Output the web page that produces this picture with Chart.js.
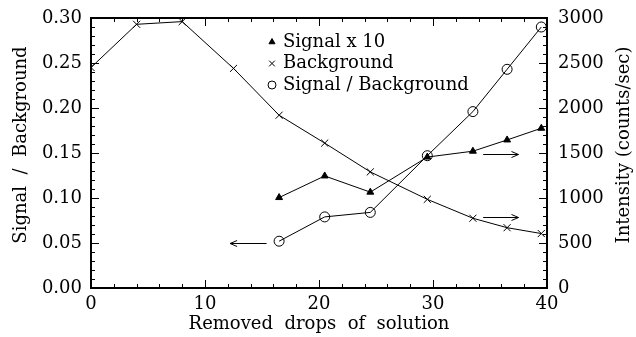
<!DOCTYPE html>
<html>
<head>
<meta charset="utf-8">
<script src="https://cdn.jsdelivr.net/npm/chart.js@4.4.0/dist/chart.umd.min.js"></script>
<style>
html, body { margin: 0; padding: 0; background: #fff; }
#wrap { width: 636px; height: 337px; }
</style>
</head>
<body>
<div id="wrap"><canvas id="chart"></canvas></div>
<script>
// data
const drops = [0, 4, 8, 12.5, 16.5, 20.5, 24.5, 29.5, 33.5, 36.5, 39.5];
const background = [2450, 2930, 2960, 2440, 1920, 1610, 1290, 985, 775, 670, 605];
const signalDrops = [16.5, 20.5, 24.5, 29.5, 33.5, 36.5, 39.5];
const signalX10 = [1005, 1245, 1065, 1455, 1520, 1645, 1775];
const ratio = [0.052, 0.079, 0.084, 0.147, 0.196, 0.243, 0.290];

// arrows showing which axis a series belongs to: [xFrom, xTo, value]
const leftArrow = [15.4, 12.2, 0.05];
const rightArrows = [[34.4, 37.5, 1490], [34.4, 37.5, 785]];

const FONT = { family: 'DejaVu Serif', size: 18 };
const pts = (xs, ys) => xs.map((x, i) => ({ x: x, y: ys[i] }));

// box with inward ticks on all four sides, arrows, legend, side titles
const framePlugin = {
    id: 'frame',
    afterDatasetsDraw(chart) {
        const { ctx, chartArea: a, scales } = chart;
        ctx.save();
        ctx.strokeStyle = '#000';
        ctx.lineWidth = 1;
        ctx.beginPath();
        for (let v = 0; v <= 40; v += 2) {
            const px = Math.round(scales.x.getPixelForValue(v)) + 0.5;
            const len = v % 10 === 0 ? 8 : 4;
            ctx.moveTo(px, a.bottom); ctx.lineTo(px, a.bottom - len);
            ctx.moveTo(px, a.top); ctx.lineTo(px, a.top + len);
        }
        for (let i = 0; i <= 30; i++) {
            const len = i % 5 === 0 ? 8 : 4;
            const pl = Math.round(scales.y.getPixelForValue(i / 100)) + 0.5;
            ctx.moveTo(a.left, pl); ctx.lineTo(a.left + len, pl);
            const pr = Math.round(scales.y1.getPixelForValue(i * 100)) + 0.5;
            ctx.moveTo(a.right, pr); ctx.lineTo(a.right - len, pr);
        }
        ctx.stroke();
        ctx.lineWidth = 2;
        ctx.strokeRect(a.left, a.top, a.right - a.left, a.bottom - a.top);

        // arrows
        ctx.lineWidth = 1;
        const arrow = (scaleY, d) => {
            const x0 = scales.x.getPixelForValue(d[0]);
            const x1 = scales.x.getPixelForValue(d[1]);
            const yy = Math.round(scaleY.getPixelForValue(d[2])) + 0.5;
            const dir = Math.sign(x1 - x0);
            ctx.beginPath();
            ctx.moveTo(x0, yy); ctx.lineTo(x1, yy);
            ctx.moveTo(x1 - dir * 7, yy - 3); ctx.lineTo(x1, yy); ctx.lineTo(x1 - dir * 7, yy + 3);
            ctx.stroke();
        };
        arrow(scales.y, leftArrow);
        rightArrows.forEach(d => arrow(scales.y1, d));

        // legend inside the plot
        const legendX = 272, legendY = 42, rowH = 21.5;
        const sizes = [3.5, 4, 4];
        ctx.font = FONT.size + 'px ' + FONT.family;
        ctx.textBaseline = 'middle';
        chart.data.datasets.forEach((ds, i) => {
            const yy = legendY + i * rowH;
            ctx.strokeStyle = '#000';
            ctx.fillStyle = ds.pointStyle === 'triangle' ? '#000' : 'rgba(0,0,0,0)';
            Chart.helpers.drawPoint(ctx, {
                pointStyle: ds.pointStyle, radius: sizes[i], rotation: 0, borderWidth: 1
            }, legendX, yy);
            ctx.fillStyle = '#000';
            ctx.fillText(ds.label, legendX + 11, yy);
        });

        // vertical axis titles, both read bottom to top
        const sideTitle = (text, x, y) => {
            ctx.save();
            ctx.translate(x, y);
            ctx.rotate(-Math.PI / 2);
            ctx.textAlign = 'center';
            ctx.fillText(text, 0, 0);
            ctx.restore();
        };
        sideTitle('Signal  /  Background', 21, 145);
        sideTitle('Intensity (counts/sec)', 624, 145);
        ctx.restore();
    }
};

new Chart(document.getElementById('chart'), {
    type: 'line',
    data: {
        datasets: [
            {
                label: 'Signal x 10',
                data: pts(signalDrops, signalX10),
                yAxisID: 'y1',
                borderColor: '#000', borderWidth: 1,
                pointStyle: 'triangle', pointRadius: 4,
                pointBackgroundColor: '#000', pointBorderColor: '#000'
            },
            {
                label: 'Background',
                data: pts(drops, background),
                yAxisID: 'y1',
                borderColor: '#000', borderWidth: 1,
                pointStyle: 'crossRot', pointRadius: 5,
                pointBorderColor: '#000', pointBorderWidth: 1
            },
            {
                label: 'Signal / Background',
                data: pts(signalDrops, ratio),
                yAxisID: 'y',
                borderColor: '#000', borderWidth: 1,
                pointStyle: 'circle', pointRadius: 5,
                pointBackgroundColor: 'rgba(0,0,0,0)', pointBorderColor: '#000', pointBorderWidth: 1
            }
        ]
    },
    options: {
        responsive: true,
        maintainAspectRatio: false,
        animation: false,
        layout: { padding: { top: 18, left: 0, right: 0, bottom: 0 } },
        plugins: { legend: { display: false }, tooltip: { enabled: false } },
        scales: {
            x: {
                type: 'linear', min: 0, max: 40, position: 'bottom',
                grid: { display: false, drawTicks: false },
                border: { display: false },
                ticks: { stepSize: 10, padding: 6, color: '#000', font: FONT, maxRotation: 0 },
                title: { display: true, text: 'Removed  drops  of  solution', color: '#000', font: FONT, padding: { top: 0, bottom: 2 } },
                afterFit(s) { s.height = 49; s.paddingLeft = 0; s.paddingRight = 0; }
            },
            y: {
                type: 'linear', min: 0, max: 0.3, position: 'left',
                grid: { display: false, drawTicks: false },
                border: { display: false },
                ticks: { stepSize: 0.05, padding: 9, color: '#000', font: FONT, callback: v => v.toFixed(2) },
                title: { display: false },
                afterFit(s) { s.width = 91; s.paddingTop = 0; s.paddingBottom = 0; }
            },
            y1: {
                type: 'linear', min: 0, max: 3000, position: 'right',
                grid: { display: false, drawTicks: false },
                border: { display: false },
                ticks: { stepSize: 500, padding: 11, color: '#000', font: FONT, callback: v => String(v) },
                title: { display: false },
                afterFit(s) { s.width = 89; s.paddingTop = 0; s.paddingBottom = 0; }
            }
        }
    },
    plugins: [framePlugin]
});
</script>
</body>
</html>
